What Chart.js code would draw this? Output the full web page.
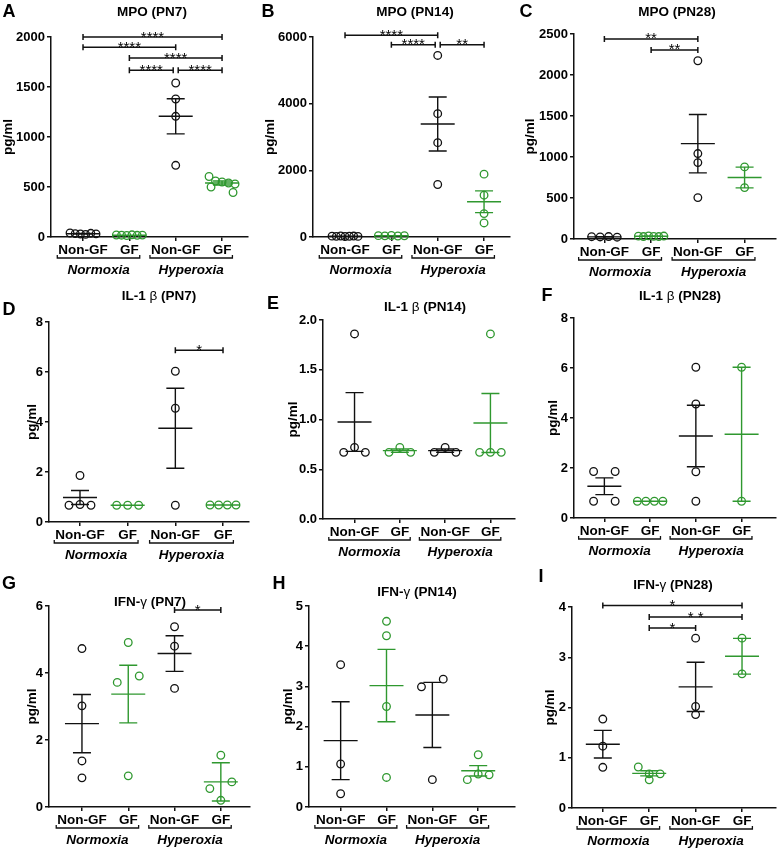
<!DOCTYPE html>
<html>
<head>
<meta charset="utf-8">
<script src="https://cdn.jsdelivr.net/npm/chart.js@4.4.0/dist/chart.umd.min.js"></script>
<style>
  body { margin: 0; background: #fff; }
  #wrap { position: relative; width: 781px; height: 850px; }
  #wrap canvas { position: absolute; }
</style>
</head>
<body>
<div id="wrap"></div>
<script>
// categories along x, and the two groups under them
const categories = ['Non-GF', 'GF', 'Non-GF', 'GF'];
const groupNames = ['Normoxia', 'Hyperoxia'];
const yTitle = 'pg/ml';

// each panel: points per group (Normoxia Non-GF, Normoxia GF, Hyperoxia Non-GF, Hyperoxia GF),
// mean and SEM, significance brackets [from, to, y, stars]
const mpoPN7 = [[40, 34, 30, 26, 37, 31], [20, 18, 15, 22, 17, 19], [1540, 1380, 1207, 717], [605, 560, 550, 540, 530, 500, 445]];
const mpoPN7Mean = [33, 18, 1207, 540];
const mpoPN7Sem = [3, 1, 176, 20];
const mpoPN7Sig = [[1, 4, 2000, '****'], [1, 3, 1897, '****'], [2, 4, 1790, '****'], [2, 3, 1667, '****'], [3, 4, 1667, '****']];

const mpoPN14 = [[25, 20, 30, 15, 22, 28, 18], [40, 35, 45, 30, 38], [5446, 3700, 2830, 1575], [1886, 1254, 702, 421]];
const mpoPN14Mean = [22, 38, 3390, 1058];
const mpoPN14Sem = [2, 3, 812, 326];
const mpoPN14Sig = [[1, 3, 6050, '****'], [2, 3, 5767, '****'], [3, 4, 5767, '**']];

const mpoPN28 = [[28, 25, 30, 22], [35, 30, 38, 32, 30, 36], [2174, 1042, 932, 505], [879, 627]];
const mpoPN28Mean = [26, 34, 1163, 750];
const mpoPN28Sem = [2, 2, 356, 126];
const mpoPN28Sig = [[1, 3, 2440, '**'], [2, 3, 2305, '**']];

const il1PN7 = [[1.86, 0.67, 0.70, 0.67], [0.67, 0.67, 0.67], [6.03, 4.55, 0.67], [0.68, 0.68, 0.68, 0.68]];
const il1PN7Mean = [0.98, 0.67, 3.75, 0.68];
const il1PN7Sem = [0.28, 0, 1.6, 0];
const il1PN7Sig = [[3, 4, 6.87, '*']];

const il1PN14 = [[1.86, 0.67, 0.72, 0.67], [0.67, 0.72, 0.67], [0.67, 0.72, 0.67], [1.86, 0.67, 0.67, 0.67]];
const il1PN14Mean = [0.975, 0.687, 0.687, 0.965];
const il1PN14Sem = [0.295, 0.017, 0.017, 0.297];
const il1PN14Sig = [];

const il1PN28 = [[1.86, 1.86, 0.67, 0.67], [0.67, 0.67, 0.67, 0.67], [6.03, 4.56, 1.85, 0.67], [6.03, 0.67]];
const il1PN28Mean = [1.27, 0.67, 3.28, 3.35];
const il1PN28Sem = [0.335, 0, 1.23, 2.68];
const il1PN28Sig = [];

const ifnPN7 = [[4.73, 3.02, 1.375, 0.87], [4.91, 3.72, 3.91, 0.93], [5.38, 4.80, 3.54], [1.545, 0.55, 0.75, 0.2]];
const ifnPN7Mean = [2.49, 3.37, 4.58, 0.75];
const ifnPN7Sem = [0.87, 0.86, 0.53, 0.57];
const ifnPN7Sig = [[3, 4, 5.88, '*']];

const ifnPN14 = [[3.54, 1.07, 0.33], [4.62, 4.26, 2.5, 0.735], [2.99, 3.18, 0.68], [1.30, 0.68, 0.82, 0.80]];
const ifnPN14Mean = [1.65, 3.02, 2.29, 0.90];
const ifnPN14Sem = [0.97, 0.9, 0.81, 0.13];
const ifnPN14Sig = [];

const ifnPN28 = [[1.77, 1.23, 0.81], [0.816, 0.56, 0.68, 0.68], [3.38, 2.02, 1.86], [3.38, 2.67]];
const ifnPN28Mean = [1.27, 0.69, 2.41, 3.02];
const ifnPN28Sem = [0.275, 0.05, 0.49, 0.355];
const ifnPN28Sig = [[1, 4, 4.03, '*'], [2, 4, 3.80, '* *'], [2, 3, 3.58, '*']];

const panels = [
  { letter: 'A', title: 'MPO (PN7)', pts: mpoPN7, mean: mpoPN7Mean, sem: mpoPN7Sem, sig: mpoPN7Sig, yMax: 2000, yStep: 500, yDec: 0 },
  { letter: 'B', title: 'MPO (PN14)', pts: mpoPN14, mean: mpoPN14Mean, sem: mpoPN14Sem, sig: mpoPN14Sig, yMax: 6000, yStep: 2000, yDec: 0 },
  { letter: 'C', title: 'MPO (PN28)', pts: mpoPN28, mean: mpoPN28Mean, sem: mpoPN28Sem, sig: mpoPN28Sig, yMax: 2500, yStep: 500, yDec: 0 },
  { letter: 'D', title: 'IL-1 β (PN7)', pts: il1PN7, mean: il1PN7Mean, sem: il1PN7Sem, sig: il1PN7Sig, yMax: 8, yStep: 2, yDec: 0 },
  { letter: 'E', title: 'IL-1 β (PN14)', pts: il1PN14, mean: il1PN14Mean, sem: il1PN14Sem, sig: il1PN14Sig, yMax: 2, yStep: 0.5, yDec: 1 },
  { letter: 'F', title: 'IL-1 β (PN28)', pts: il1PN28, mean: il1PN28Mean, sem: il1PN28Sem, sig: il1PN28Sig, yMax: 8, yStep: 2, yDec: 0 },
  { letter: 'G', title: 'IFN-γ (PN7)', pts: ifnPN7, mean: ifnPN7Mean, sem: ifnPN7Sem, sig: ifnPN7Sig, yMax: 6, yStep: 2, yDec: 0 },
  { letter: 'H', title: 'IFN-γ (PN14)', pts: ifnPN14, mean: ifnPN14Mean, sem: ifnPN14Sem, sig: ifnPN14Sig, yMax: 5, yStep: 1, yDec: 0 },
  { letter: 'I', title: 'IFN-γ (PN28)', pts: ifnPN28, mean: ifnPN28Mean, sem: ifnPN28Sem, sig: ifnPN28Sig, yMax: 4, yStep: 1, yDec: 0 }
];

// page layout: cell box, plot area [left,right,top,bottom], y title x, x range, letter and title spots
const layouts = [
  { cell: [0, 0, 260, 285], area: [51, 248, 37, 237], yTitleX: 8, xRange: [0.309, 4.56], letterAt: [9, 12], titleAt: [152, 12] },
  { cell: [260, 0, 260, 285], area: [313, 510, 37, 237], yTitleX: 270, xRange: [0.309, 4.56], letterAt: [268, 12], titleAt: [415, 12] },
  { cell: [520, 0, 261, 285], area: [574, 780, 34, 239], yTitleX: 530, xRange: [0.35, 4.67], letterAt: [526, 12], titleAt: [677, 12] },
  { cell: [0, 280, 260, 290], area: [49, 249, 322, 522], yTitleX: 32, xRange: [0.35, 4.545], letterAt: [9, 310], titleAt: [159, 296] },
  { cell: [260, 280, 260, 290], area: [323, 518, 320, 519], yTitleX: 293, xRange: [0.304, 4.54], letterAt: [273, 304], titleAt: [425, 307] },
  { cell: [520, 280, 261, 290], area: [574, 780, 318, 518], yTitleX: 553, xRange: [0.336, 4.75], letterAt: [547, 296], titleAt: [680, 296] },
  { cell: [0, 560, 260, 290], area: [49, 250, 606, 807], yTitleX: 32, xRange: [0.288, 4.63], letterAt: [9, 584], titleAt: [150, 602] },
  { cell: [260, 560, 260, 290], area: [309, 517, 606, 807], yTitleX: 288, xRange: [0.31, 4.8], letterAt: [279, 584], titleAt: [417, 592] },
  { cell: [520, 560, 261, 290], area: [572, 777, 607, 808], yTitleX: 550, xRange: [0.336, 4.73], letterAt: [541, 577], titleAt: [673, 585] }
];

const FONT = '"Liberation Sans", Arial, Helvetica, sans-serif';
const BLACK = '#111';
const GREEN = '#2f982f';
const groupColors = [BLACK, GREEN, BLACK, GREEN];
Chart.defaults.font.family = FONT;
Chart.defaults.color = '#000';

// spread points that sit at nearly the same height into centred rows (pixel offsets)
function swarm(vals, pxPerUnit) {
  const idx = vals.map((v, i) => i).sort((a, b) => vals[b] - vals[a]);
  const rows = [];
  idx.forEach(i => {
    const row = rows[rows.length - 1];
    if (row && (vals[row[0]] - vals[i]) * pxPerUnit < 7.8) row.push(i);
    else rows.push([i]);
  });
  const off = vals.map(() => 0);
  rows.forEach(row => {
    row.sort((a, b) => a - b);
    const n = row.length;
    if (n < 2) return;
    const gap = n === 2 ? 22 : Math.min(11, 26 / (n - 1));
    row.forEach((i, k) => { off[i] = (k - (n - 1) / 2) * gap; });
  });
  return off;
}

function drawTitle(ctx, text, x, y) {
  const parts = [...text].map(ch => ({ ch: ch, font: /[βγ]/.test(ch) ? '13.5px ' + FONT : 'bold 13.5px ' + FONT }));
  let w = 0;
  parts.forEach(pt => { ctx.font = pt.font; pt.w = ctx.measureText(pt.ch).width; w += pt.w; });
  let px = x - w / 2;
  ctx.textAlign = 'left';
  ctx.textBaseline = 'middle';
  parts.forEach(pt => { ctx.font = pt.font; ctx.fillText(pt.ch, px, y); px += pt.w; });
}

function makeDecor(p, L) {
  const [cx, cy] = L.cell;
  return {
    id: 'decor',
    afterDatasetsDraw(chart) {
      const ctx = chart.ctx, xs = chart.scales.x, ys = chart.scales.y;
      ctx.save();
      ctx.lineCap = 'butt';
      // mean +/- SEM
      p.mean.forEach((m, g) => {
        const x = xs.getPixelForValue(g + 1);
        const ym = ys.getPixelForValue(m);
        const yt = ys.getPixelForValue(m + p.sem[g]);
        const yb = ys.getPixelForValue(m - p.sem[g]);
        ctx.strokeStyle = groupColors[g];
        ctx.lineWidth = 1.4;
        ctx.beginPath();
        ctx.moveTo(x - 17, ym); ctx.lineTo(x + 17, ym);
        ctx.moveTo(x, yt); ctx.lineTo(x, yb);
        ctx.moveTo(x - 9, yt); ctx.lineTo(x + 9, yt);
        ctx.moveTo(x - 9, yb); ctx.lineTo(x + 9, yb);
        ctx.stroke();
      });
      // significance brackets
      ctx.strokeStyle = BLACK;
      ctx.fillStyle = '#000';
      p.sig.forEach(s => {
        let x1 = xs.getPixelForValue(s[0]);
        let x2 = xs.getPixelForValue(s[1]);
        p.sig.forEach(o => {
          if (o !== s && o[2] === s[2]) {
            if (o[1] === s[0]) x1 += 2.5;
            if (o[0] === s[1]) x2 -= 2.5;
          }
        });
        const y = ys.getPixelForValue(s[2]);
        ctx.lineWidth = 1.5;
        ctx.beginPath();
        ctx.moveTo(x1, y); ctx.lineTo(x2, y);
        ctx.moveTo(x1, y - 3); ctx.lineTo(x1, y + 3);
        ctx.moveTo(x2, y - 3); ctx.lineTo(x2, y + 3);
        ctx.stroke();
        ctx.font = '15px ' + FONT;
        ctx.textAlign = 'center';
        ctx.textBaseline = 'alphabetic';
        ctx.fillText(s[3], (x1 + x2) / 2, y + 4.5);
      });
      // group brackets under the category labels
      const axisY = chart.chartArea.bottom;
      ctx.font = 'bold 13.5px ' + FONT;
      const wNon = ctx.measureText(categories[0]).width;
      const wGf = ctx.measureText(categories[1]).width;
      groupNames.forEach((name, k) => {
        const a = xs.getPixelForValue(2 * k + 1) - wNon / 2 - 1;
        const b = xs.getPixelForValue(2 * k + 2) + wGf / 2 + 1;
        const by = axisY + 21;
        ctx.lineWidth = 1.3;
        ctx.beginPath();
        ctx.moveTo(a, by - 3); ctx.lineTo(a, by); ctx.lineTo(b, by); ctx.lineTo(b, by - 3);
        ctx.stroke();
        ctx.font = 'italic bold 13.5px ' + FONT;
        ctx.textAlign = 'center';
        ctx.textBaseline = 'middle';
        ctx.fillText(name, (a + b) / 2, axisY + 33);
      });
      // panel letter and title
      ctx.font = 'bold 18px ' + FONT;
      ctx.textAlign = 'center';
      ctx.textBaseline = 'middle';
      ctx.fillText(p.letter, L.letterAt[0] - cx, L.letterAt[1] - cy);
      drawTitle(ctx, p.title, L.titleAt[0] - cx, L.titleAt[1] - cy);
      ctx.restore();
    }
  };
}

const wrap = document.getElementById('wrap');
panels.forEach((p, k) => {
  const L = layouts[k];
  const [cx, cy, cw, ch] = L.cell;
  const [l, r, t, b] = L.area;
  const canvas = document.createElement('canvas');
  canvas.width = cw;
  canvas.height = ch;
  canvas.style.left = cx + 'px';
  canvas.style.top = cy + 'px';
  canvas.style.width = cw + 'px';
  canvas.style.height = ch + 'px';
  wrap.appendChild(canvas);

  const padLeft = Math.max(0, L.yTitleX - cx - 7.8);
  const yw = l - cx - padLeft;
  const xh = cy + ch - b;
  const pxPerY = (b - t) / p.yMax;
  const xPerPx = (L.xRange[1] - L.xRange[0]) / (r - l);

  const datasets = p.pts.map((vals, g) => {
    const off = swarm(vals, pxPerY);
    return {
      data: vals.map((v, i) => ({ x: g + 1 + off[i] * xPerPx, y: v })),
      borderColor: groupColors[g],
      backgroundColor: 'rgba(255,255,255,0)',
      pointRadius: 3.8,
      pointHoverRadius: 3.8,
      pointBorderWidth: 1.3,
      clip: false
    };
  });

  new Chart(canvas, {
    type: 'scatter',
    data: { datasets: datasets },
    options: {
      responsive: false,
      animation: false,
      events: [],
      layout: { padding: { left: padLeft, top: t - cy, right: cx + cw - r, bottom: 0 } },
      plugins: { legend: { display: false }, tooltip: { enabled: false } },
      scales: {
        x: {
          type: 'linear',
          min: L.xRange[0],
          max: L.xRange[1],
          afterBuildTicks: s => { s.ticks = [1, 2, 3, 4].map(v => ({ value: v })); },
          afterFit: s => { s.height = xh; },
          ticks: {
            autoSkip: false, maxRotation: 0, padding: 1,
            font: { size: 13.5, weight: 'bold' },
            callback: (v, i) => categories[i]
          },
          grid: { drawOnChartArea: false, drawTicks: true, tickLength: 4, color: BLACK, lineWidth: 1.5 },
          border: { color: BLACK, width: 1.5 }
        },
        y: {
          min: 0,
          max: p.yMax,
          afterFit: s => { s.width = yw; },
          ticks: {
            stepSize: p.yStep, padding: 2,
            font: { size: 13, weight: 'bold' },
            callback: v => Number(v).toFixed(p.yDec)
          },
          grid: { drawOnChartArea: false, drawTicks: true, tickLength: 4, color: BLACK, lineWidth: 1.5 },
          border: { color: BLACK, width: 1.5 },
          title: { display: true, text: yTitle, font: { size: 13.5, weight: 'bold' }, padding: { top: 0, bottom: 0 } }
        }
      }
    },
    plugins: [makeDecor(p, L)]
  });
});
</script>
</body>
</html>
